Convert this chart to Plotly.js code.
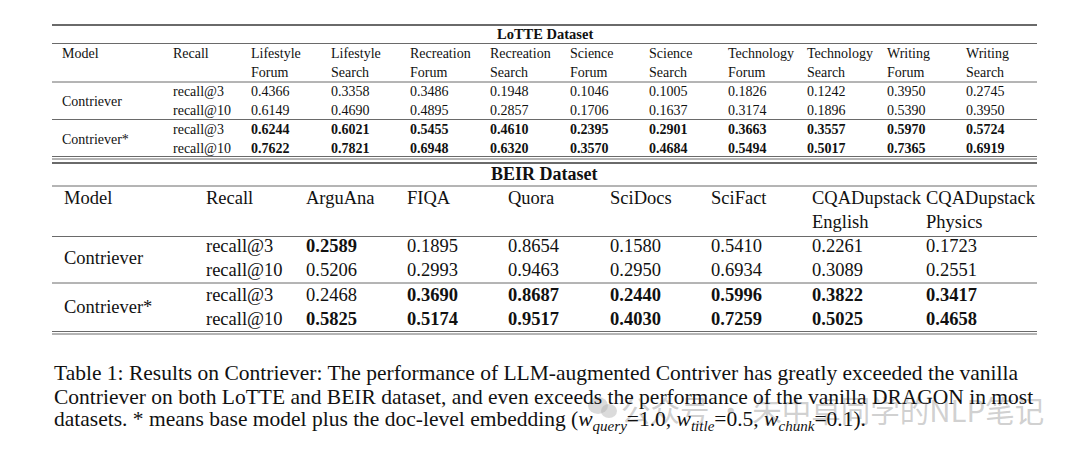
<!DOCTYPE html>
<html>
<head>
<meta charset="utf-8">
<script src="https://cdn.plot.ly/plotly-3.0.1.min.js"></script>
<style>html,body{margin:0;padding:0;background:#fff;}#chart{width:1080px;height:452px;}</style>
</head>
<body>
<div id="chart"></div>
<script>
// ---------- DATA ----------
const models = ["Contriever", "Contriever*"];
const recallLevels = ["recall@3", "recall@10"];

const lotteTitle = "LoTTE Dataset";
const lotteHeaders = [["Model", ""], ["Recall", ""],
  ["Lifestyle", "Forum"], ["Lifestyle", "Search"], ["Recreation", "Forum"], ["Recreation", "Search"],
  ["Science", "Forum"], ["Science", "Search"], ["Technology", "Forum"], ["Technology", "Search"],
  ["Writing", "Forum"], ["Writing", "Search"]];
const lotteContrieverR3  = [0.4366, 0.3358, 0.3486, 0.1948, 0.1046, 0.1005, 0.1826, 0.1242, 0.3950, 0.2745];
const lotteContrieverR10 = [0.6149, 0.4690, 0.4895, 0.2857, 0.1706, 0.1637, 0.3174, 0.1896, 0.5390, 0.3950];
const lotteStarR3        = [0.6244, 0.6021, 0.5455, 0.4610, 0.2395, 0.2901, 0.3663, 0.3557, 0.5970, 0.5724];
const lotteStarR10       = [0.7622, 0.7821, 0.6948, 0.6320, 0.3570, 0.4684, 0.5494, 0.5017, 0.7365, 0.6919];

const beirTitle = "BEIR Dataset";
const beirHeaders = [["Model", ""], ["Recall", ""], ["ArguAna", ""], ["FIQA", ""], ["Quora", ""],
  ["SciDocs", ""], ["SciFact", ""], ["CQADupstack", "English"], ["CQADupstack", "Physics"]];
const beirContrieverR3  = [0.2589, 0.1895, 0.8654, 0.1580, 0.5410, 0.2261, 0.1723];
const beirContrieverR10 = [0.5206, 0.2993, 0.9463, 0.2950, 0.6934, 0.3089, 0.2551];
const beirStarR3        = [0.2468, 0.3690, 0.8687, 0.2440, 0.5996, 0.3822, 0.3417];
const beirStarR10       = [0.5825, 0.5174, 0.9517, 0.4030, 0.7259, 0.5025, 0.4658];

const captionLines = [
  "Table 1: Results on Contriever: The performance of LLM-augmented Contriver has greatly exceeded the vanilla",
  "Contriever on both LoTTE and BEIR dataset, and even exceeds the performance of the vanilla DRAGON in most",
  "datasets. * means base model plus the doc-level embedding (<i>w</i><sub><i>query</i></sub>=1.0, <i>w</i><sub><i>title</i></sub>=0.5, <i>w</i><sub><i>chunk</i></sub>=0.1)."
];
const watermark = "公众号 · 朱中卓同学的NLP笔记";

// ---------- LAYOUT HELPERS ----------
const FONT = "Liberation Serif, Times New Roman, serif";
const INK = "#111";
const RULE = "#6a6a6a";
const X0 = 52, X1 = 1037;
const ann = [];
const shapes = [];

function txt(x, y, s, size, bold, extra) {
  ann.push(Object.assign({
    x: x, y: y, xref: "x", yref: "y", text: bold ? "<b>" + s + "</b>" : s,
    showarrow: false, xanchor: "left", yanchor: "middle", borderpad: 0,
    font: {family: FONT, size: size, color: INK}
  }, extra || {}));
}
function rule(y, w) {
  shapes.push({type: "line", xref: "x", yref: "y", x0: X0, x1: X1, y0: y, y1: y,
    line: {color: RULE, width: w || 1}});
}
function fmt(v) { return v.toFixed(4); }

function buildTable(cfg) {
  const {title, headers, rows, colX, size, titleSize, yTop, yTitle, yTitleRule,
         yHead, yHeadRule, yRows, yMidRule, yModel, yBottom} = cfg;
  rule(yTop, 2);
  txt((X0 + X1) / 2, yTitle, title, titleSize, true, {xanchor: "center"});
  rule(yTitleRule, 1);
  headers.forEach((h, i) => {
    txt(colX[i], yHead[0], h[0], size, false);
    if (h[1]) txt(colX[i], yHead[1], h[1], size, false);
  });
  rule(yHeadRule, 1);
  models.forEach((m, mi) => {
    txt(colX[0], yModel[mi], m, size, false);
    recallLevels.forEach((r, ri) => {
      const y = yRows[mi * 2 + ri];
      txt(colX[1], y, r, size, false);
      rows[mi][ri].forEach((v, ci) => {
        const best = Math.max(...rows.map(mr => mr[ri][ci]));
        txt(colX[ci + 2], y, fmt(v), size, v === best);
      });
    });
  });
  rule(yMidRule, 1);
  rule(yBottom, 1);
  rule(yBottom + 2.5, 1);
}

// watermark first (drawn underneath)
shapes.push({type: "circle", xref: "x", yref: "y", x0: 588, x1: 608, y0: 397, y1: 414,
  fillcolor: "rgba(175,175,175,0.45)", line: {width: 0}, layer: "below"});
shapes.push({type: "circle", xref: "x", yref: "y", x0: 601, x1: 617, y0: 404, y1: 418,
  fillcolor: "rgba(175,175,175,0.45)", line: {width: 0}, layer: "below"});
ann.push({
  x: 619, y: 409, xref: "x", yref: "y", text: watermark, showarrow: false,
  xanchor: "left", yanchor: "middle",
  font: {family: "Noto Sans CJK SC, Noto Sans, sans-serif", size: 29.5, color: "rgba(170,170,170,0.55)"}
});

buildTable({
  title: lotteTitle, headers: lotteHeaders,
  rows: [[lotteContrieverR3, lotteContrieverR10], [lotteStarR3, lotteStarR10]],
  colX: [61, 172, 250, 330, 409, 489, 569, 648, 727, 806, 886, 965],
  size: 14, titleSize: 14.5,
  yTop: 25, yTitle: 34, yTitleRule: 43.5,
  yHead: [53, 72.5], yHeadRule: 82,
  yRows: [91.5, 110.5, 129, 148], yMidRule: 119.5, yModel: [101, 139],
  yBottom: 156.5
});

buildTable({
  title: beirTitle, headers: beirHeaders,
  rows: [[beirContrieverR3, beirContrieverR10], [beirStarR3, beirStarR10]],
  colX: [63, 205, 305, 406, 507, 609, 710, 811, 925],
  size: 18.5, titleSize: 18,
  yTop: 163, yTitle: 174, yTitleRule: 186,
  yHead: [198, 222], yHeadRule: 236.5,
  yRows: [246, 270, 295, 319], yMidRule: 283, yModel: [258, 307],
  yBottom: 331.5
});

const capY = [372.5, 396.5, 420];
captionLines.forEach((l, i) => txt(53, capY[i], l, 21.5, false));

const layout = {
  width: 1080, height: 452,
  margin: {l: 0, r: 0, t: 0, b: 0},
  paper_bgcolor: "#fff", plot_bgcolor: "#fff",
  xaxis: {range: [0, 1080], visible: false, fixedrange: true},
  yaxis: {range: [452, 0], visible: false, fixedrange: true},
  showlegend: false,
  annotations: ann, shapes: shapes
};
Plotly.newPlot("chart", [], layout, {staticPlot: true, displayModeBar: false});
</script>
</body>
</html>
